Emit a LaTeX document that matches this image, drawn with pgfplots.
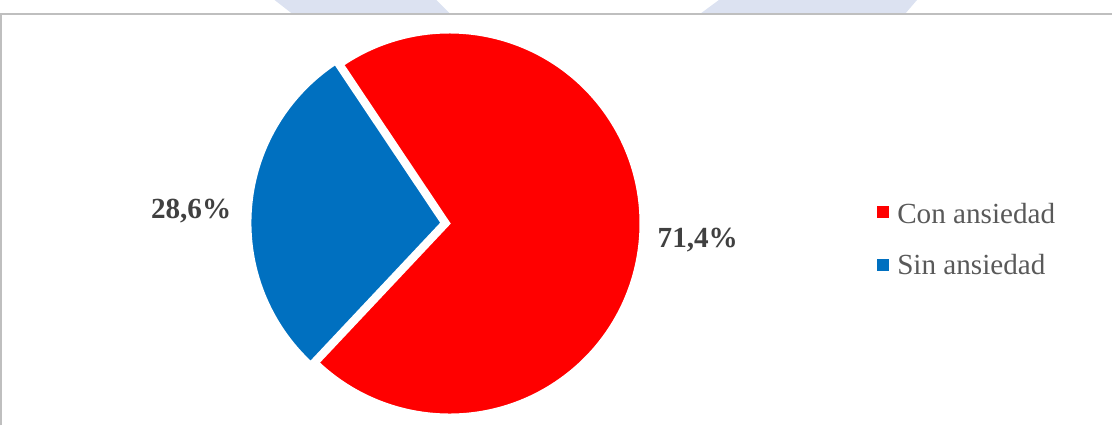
\documentclass[border=0pt]{standalone}
\usepackage{pgfplots}
\pgfplotsset{compat=1.18}
\usepackage{fontspec}
\setmainfont{Liberation Serif}
\definecolor{pRed}{HTML}{FF0000}
\definecolor{pBlue}{HTML}{0070C0}
\definecolor{lblGray}{HTML}{404040}
\definecolor{legGray}{HTML}{595959}
\definecolor{frameGray}{HTML}{BFBFBF}
\definecolor{wm}{HTML}{DCE2F1}
% data (percent)
\def\valCon{71.4}
\def\valSin{28.6}
\pgfmathsetmacro\startA{123.8}
\pgfmathsetmacro\endR{\startA-3.6*\valCon}
\pgfmathsetmacro\endB{\endR-3.6*\valSin}
\pgfmathsetmacro\midR{(\startA+\endR)/2}
\pgfmathsetmacro\midB{(\endR+\endB)/2}
\pgfmathsetmacro\rx{449+4*cos(\midR)}
\pgfmathsetmacro\ry{201+4*sin(\midR)}
\pgfmathsetmacro\bx{449+4*cos(\midB)}
\pgfmathsetmacro\by{201+4*sin(\midB)}
\begin{document}
\begin{tikzpicture}
\begin{axis}[scale only axis, width=556pt, height=211.5pt,
  xmin=0, xmax=1112, ymin=0, ymax=423, axis lines=none, clip=true]
% faint watermark shapes above the frame
\fill[wm] (axis cs:279,423) -- (axis cs:440,423) -- (axis cs:454,409) -- (axis cs:297,409) -- cycle;
\fill[wm] (axis cs:721,423) -- (axis cs:918,423) -- (axis cs:906,409) -- (axis cs:702,409) -- cycle;
% frame
\draw[frameGray, line width=1.1pt] (axis cs:7,0) -- (axis cs:7,409) -- (axis cs:1112,409);
% pie slices
\filldraw[fill=pRed, draw=white, line width=1pt] (axis cs:\rx,\ry) -- ++(\startA:95pt)
  arc[start angle=\startA, end angle=\endR, radius=95pt] -- cycle;
\filldraw[fill=pBlue, draw=white, line width=1pt] (axis cs:\bx,\by) -- ++(\endR:95pt)
  arc[start angle=\endR, end angle=\endB, radius=95pt] -- cycle;
% data labels
\node[text=lblGray, font=\fontsize{14.5pt}{17pt}\selectfont\bfseries] at (axis cs:196,213) {28,6\%};
\node[text=lblGray, font=\fontsize{14.5pt}{17pt}\selectfont\bfseries] at (axis cs:700,184) {71,4\%};
% legend
\fill[pRed] (axis cs:878,206) rectangle (axis cs:890,218);
\node[anchor=west, text=legGray, font=\fontsize{14.5pt}{17pt}\selectfont, inner sep=0pt] at (axis cs:898,211) {Con ansiedad};
\fill[pBlue] (axis cs:878,153) rectangle (axis cs:890,165);
\node[anchor=west, text=legGray, font=\fontsize{14.5pt}{17pt}\selectfont, inner sep=0pt] at (axis cs:898,160) {Sin ansiedad};
\end{axis}
\end{tikzpicture}
\end{document}
